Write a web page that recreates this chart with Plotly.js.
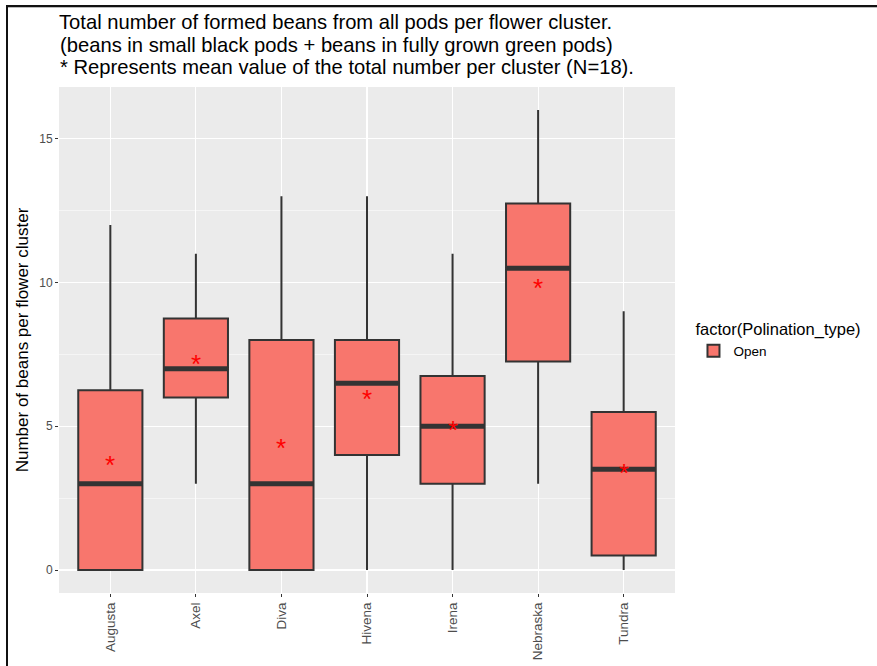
<!DOCTYPE html>
<html>
<head>
<meta charset="utf-8">
<script src="https://cdn.plot.ly/plotly-3.0.1.min.js"></script>
<style>
  html, body { margin: 0; padding: 0; background: #fff; }
  #wrap { position: relative; width: 877px; height: 666px; overflow: hidden; }
  #chart { position: absolute; left: 0; top: 0; width: 877px; height: 666px; }
  #frame { position: absolute; left: 6px; top: 5px; width: 880px; height: 670px;
           border-top: 2px solid #111; border-left: 2px solid #111; pointer-events: none; }
  #frame::after { content: ""; position: absolute; left: 0; right: 0; top: 0; height: 1px; background: #bbb; }
</style>
</head>
<body>
<div id="wrap">
  <div id="chart"></div>
  <div id="frame"></div>
</div>
<script>
// Varieties (x categories)
const varieties = ["Augusta", "Axel", "Diva", "Hivena", "Irena", "Nebraska", "Tundra"];

// Box statistics: beans per flower cluster
const lowerWhisker = [0, 3, 0, 0, 0, 3, 0];
const q1Values     = [0, 6, 0, 4, 3, 7.25, 0.5];
const medianValues = [3, 7, 3, 6.5, 5, 10.5, 3.5];
const q3Values     = [6.25, 8.75, 8, 8, 6.75, 12.75, 5.5];
const upperWhisker = [12, 11, 13, 13, 11, 16, 9];

// Mean total number per cluster (N=18)
const meanValues   = [3.8, 7.3, 4.4, 6.1, 5.0, 9.95, 3.5];

// Heading lines
const titleLines = [
  "Total number of formed beans from all pods per flower cluster.",
  "(beans in small black pods + beans in fully grown green pods)",
  "* Represents mean value of the total number per cluster (N=18)."
];

const fillColor = "#F8766D";
const edgeColor = "#333333";

const boxTrace = {
  type: "box",
  name: "Open",
  x: varieties,
  q1: q1Values,
  median: medianValues,
  q3: q3Values,
  lowerfence: lowerWhisker,
  upperfence: upperWhisker,
  fillcolor: fillColor,
  line: { color: edgeColor, width: 2 },
  whiskerwidth: 0,
  boxpoints: false,
  hoverinfo: "skip",
  showlegend: true
};

// Heavier median bars, as in ggplot's fattened median
// (line-ew spans 1.4 x size/2 either side, so size 45.5 ≈ box width)
const medianTrace = {
  type: "scatter",
  mode: "markers",
  x: varieties,
  y: medianValues,
  marker: { symbol: "line-ew-open", size: 45.5, color: edgeColor, line: { color: edgeColor, width: 5 } },
  hoverinfo: "skip",
  showlegend: false
};

// Mean shown as a red asterisk, nudged so the glyph sits on the value
const meanMarks = varieties.map((v, i) => ({
  x: v,
  y: meanValues[i],
  xref: "x",
  yref: "y",
  text: "*",
  showarrow: false,
  yshift: -4,
  font: { color: "#FF0000", size: 26, family: "Liberation Sans, Arial, sans-serif" }
}));

// Pixel line centres of the heading, converted to paper coordinates
const plotTop = 87, plotBottom = 593;
const toPaperY = py => (plotBottom - py) / (plotBottom - plotTop);
const headingCentres = [22, 45, 67.5];

const headingNotes = titleLines.slice(1).map((t, i) => ({
  text: t,
  xref: "paper", x: 0, xanchor: "left",
  yref: "paper", y: toPaperY(headingCentres[i + 1]), yanchor: "middle",
  showarrow: false,
  borderpad: 0,
  font: { size: 20.2, color: "#000" }
}));

const layout = {
  width: 877,
  height: 666,
  paper_bgcolor: "#FFFFFF",
  plot_bgcolor: "#EBEBEB",
  font: { family: "Liberation Sans, Arial, sans-serif", color: "#000" },
  margin: { l: 59, r: 202, t: plotTop, b: 666 - plotBottom },
  boxgap: 0.25,
  boxgroupgap: 0,
  title: {
    text: titleLines[0],
    font: { size: 20.2, color: "#000" },
    x: 0, xref: "paper", xanchor: "left",
    y: 1 - headingCentres[0] / 666, yref: "container", yanchor: "middle"
  },
  annotations: headingNotes.concat(meanMarks),
  xaxis: {
    type: "category",
    range: [-0.6, 6.6],
    showgrid: true,
    gridcolor: "#FFFFFF",
    gridwidth: 1.1,
    zeroline: false,
    showline: false,
    ticks: "outside",
    ticklen: 3,
    tickwidth: 1,
    tickcolor: "#333333",
    tickangle: -90,
    tickfont: { size: 13.5, color: "#4D4D4D" }
  },
  yaxis: {
    range: [-0.8, 16.8],
    tickvals: [0, 5, 10, 15],
    ticktext: ["0", "5", "10", "15"],
    showgrid: true,
    gridcolor: "#FFFFFF",
    gridwidth: 1.1,
    minor: { tickvals: [2.5, 7.5, 12.5], showgrid: true, gridcolor: "#FFFFFF", gridwidth: 0.5, ticks: "" },
    zeroline: false,
    showline: false,
    ticks: "outside",
    ticklen: 3,
    tickwidth: 1,
    tickcolor: "#333333",
    tickfont: { size: 12, color: "#4D4D4D" },
    title: { text: "Number of beans per flower cluster", font: { size: 17, color: "#000" }, standoff: 6 }
  },
  legend: {
    title: { text: "factor(Polination_type)", font: { size: 16.5, color: "#000" } },
    x: 1.03, xanchor: "left",
    y: 0.5, yanchor: "middle",
    bgcolor: "rgba(0,0,0,0)",
    font: { size: 13.5, color: "#000" }
  },
  showlegend: true
};

Plotly.newPlot("chart", [boxTrace, medianTrace], layout, { displayModeBar: false, staticPlot: true });
</script>
</body>
</html>
